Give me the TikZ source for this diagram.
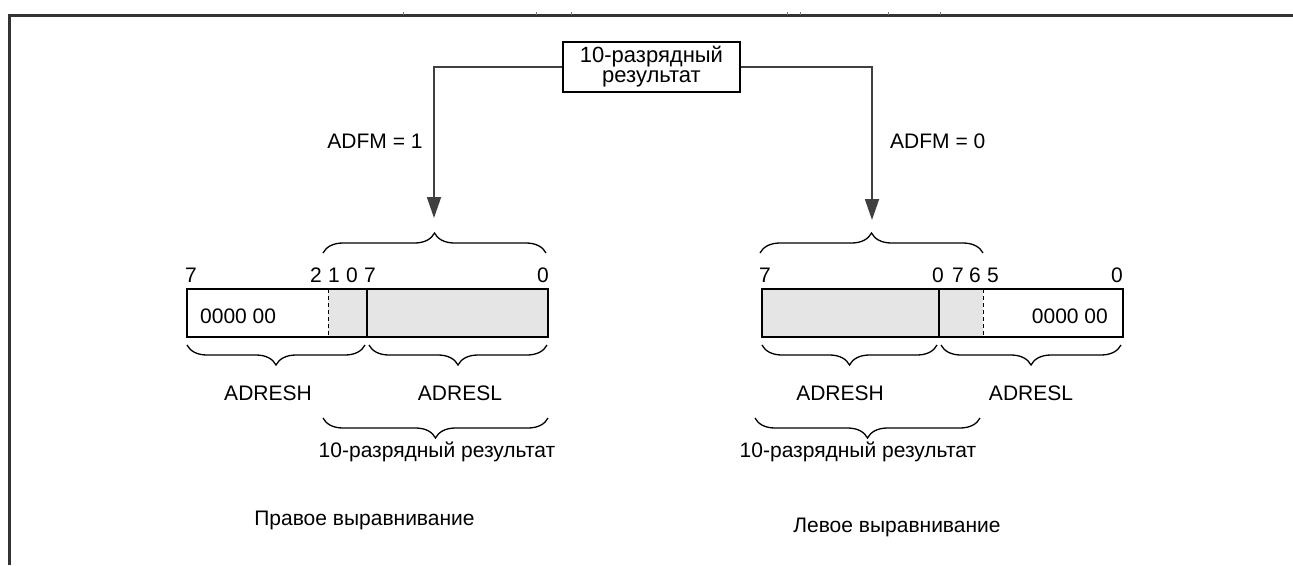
\documentclass[tikz,border=0pt]{standalone}
\usepackage{fontspec}
\setmainfont{Liberation Sans}
\usetikzlibrary{arrows.meta,decorations.pathreplacing}
\begin{document}
\begin{tikzpicture}[x=1pt,y=-1pt,
  txt/.style={font=\fontsize{21}{22}\selectfont, inner sep=0pt, anchor=base},
  bitlbl/.style={font=\fontsize{21}{22}\selectfont, inner sep=0pt, anchor=base},
  topbox/.style={draw, line width=1.4pt, align=center, font=\fontsize{22}{20}\selectfont,
     minimum width=177pt, minimum height=50pt, inner sep=0pt},
  regbox/.style={draw, line width=1.3pt, minimum height=48pt, inner sep=0pt},
  conn/.style={line width=1.8pt, black!75, -{Triangle[length=21pt,width=14pt]}},
  brc/.style={decorate, decoration={brace, amplitude=20pt}, line width=1.3pt},
  frameline/.style={line width=3.2pt, black!80},
  tick/.style={line width=1pt, black!55}
]
\useasboundingbox (0,0) rectangle (1293,565);
% frame
\draw[frameline] (9.5,565) -- (9.5,15.5) -- (1293,15.5);
\foreach \t in {403,536,571,787,800,888,940} \draw[tick] (\t,12) -- (\t,14.5);

% top box
\node[topbox] (res) at (651.5,67) {10-разрядный\\результат};
\coordinate (tipL) at (434,218);
\coordinate (tipR) at (872,220);
\draw[conn] (res.west) -| (tipL);
\draw[conn] (res.east) -| (tipR);
\node[txt] (adfm1) at (375,148) {ADFM = 1};
\node[txt, anchor=base west] (adfm0) at (890,148) {ADFM = 0};

% ---------- left register ----------
\fill[gray!20] (328,289) rectangle (548,337);
\node[regbox, minimum width=361pt] (regL) at (367.5,313) {};
\draw[line width=1pt, dash pattern=on 4pt off 3pt] (328,289) -- (328,337);
\draw[line width=1.3pt] (367,289) -- (367,337);
\node[txt, anchor=base west] (zL) at (200,323) {0000 00};
\node[bitlbl] (bL7) at (191,282) {7};
\node[bitlbl] (bL2) at (316,282) {2};
\node[bitlbl] (bL1) at (334,282) {1};
\node[bitlbl] (bL0) at (352,282) {0};
\node[bitlbl] (bL7b) at (370,282) {7};
\node[bitlbl] (bL0b) at (543,282) {0};
\draw[brc] (323,253) -- (546,253);
\draw[brc] (365,345) -- (187,345);
\draw[brc] (547,345) -- (369,345);
\node[txt] (hL) at (268,400) {ADRESH};
\node[txt] (lL) at (460,400) {ADRESL};
\draw[brc] (548,418) -- (323,418);
\node[txt] (r10L) at (437,457) {10-разрядный результат};
\node[txt] (capL) at (364.5,525) {Правое выравнивание};

% ---------- right register ----------
\fill[gray!20] (762,289) rectangle (983,337);
\node[regbox, minimum width=361pt] (regR) at (942.5,313) {};
\draw[line width=1.3pt] (939,289) -- (939,337);
\draw[line width=1pt, dash pattern=on 4pt off 3pt] (983,289) -- (983,337);
\node[txt, anchor=base east] (zR) at (1108,323) {0000 00};
\node[bitlbl] (bR7) at (765,282) {7};
\node[bitlbl] (bR0) at (938,282) {0};
\node[bitlbl] (bR7b) at (958,282) {7};
\node[bitlbl] (bR6) at (975,282) {6};
\node[bitlbl] (bR5) at (993,282) {5};
\node[bitlbl] (bR0b) at (1117,282) {0};
\draw[brc] (760,253) -- (983,253);
\draw[brc] (937,345) -- (762,345);
\draw[brc] (1121,345) -- (941,345);
\node[txt] (hR) at (840,400) {ADRESH};
\node[txt] (lR) at (1031,400) {ADRESL};
\draw[brc] (980,418) -- (755,418);
\node[txt] (r10R) at (858,457) {10-разрядный результат};
\node[txt] (capR) at (897,532) {Левое выравнивание};
\end{tikzpicture}
\end{document}
